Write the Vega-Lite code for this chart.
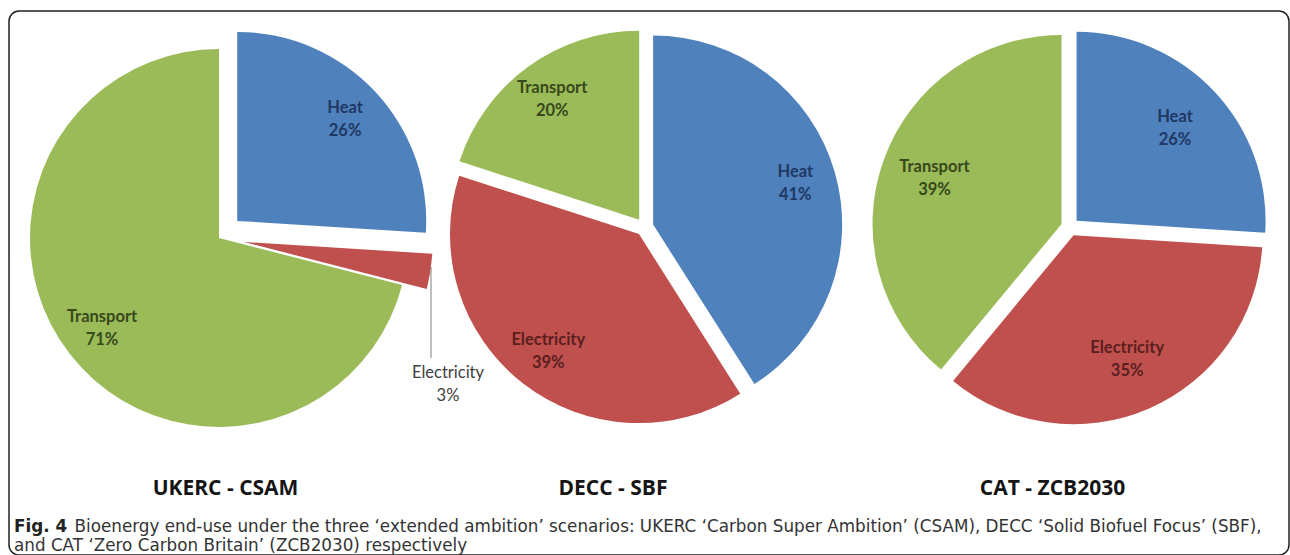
{
  "$schema": "https://vega.github.io/schema/vega-lite/v6.json",
  "width": 1280,
  "height": 544,
  "autosize": {"type": "none"},
  "padding": {"left": 9, "top": 11, "right": 1, "bottom": 0},
  "background": "white",
  "config": {
    "view": {"stroke": "#222222", "strokeWidth": 1.5, "cornerRadius": 10},
    "font": "Open Sans"
  },
  "title": {
    "text": "Fig. 4",
    "subtitle": "and CAT ‘Zero Carbon Britain’ (ZCB2030) respectively",
    "orient": "bottom",
    "anchor": "start",
    "frame": "group",
    "offset": -37,
    "dx": 5,
    "baseline": "top",
    "font": "DejaVu Sans",
    "fontSize": 16.8,
    "fontWeight": "bold",
    "color": "#222222",
    "subtitleFont": "DejaVu Sans",
    "subtitleFontSize": 16.8,
    "subtitleFontWeight": "normal",
    "subtitleColor": "#333333",
    "subtitlePadding": 3
  },
  "data": {
    "values": [
      {"scenario": "UKERC - CSAM", "category": "Heat", "share": 0.26, "order": 1},
      {"scenario": "UKERC - CSAM", "category": "Electricity", "share": 0.03, "order": 2},
      {"scenario": "UKERC - CSAM", "category": "Transport", "share": 0.71, "order": 3},
      {"scenario": "DECC - SBF", "category": "Heat", "share": 0.41, "order": 1},
      {"scenario": "DECC - SBF", "category": "Electricity", "share": 0.39, "order": 2},
      {"scenario": "DECC - SBF", "category": "Transport", "share": 0.20, "order": 3},
      {"scenario": "CAT - ZCB2030", "category": "Heat", "share": 0.26, "order": 1},
      {"scenario": "CAT - ZCB2030", "category": "Electricity", "share": 0.35, "order": 2},
      {"scenario": "CAT - ZCB2030", "category": "Transport", "share": 0.39, "order": 3}
    ]
  },
  "transform": [
    {"stack": "share", "groupby": ["scenario"], "sort": [{"field": "order", "order": "ascending"}], "as": ["v0", "v1"]}
  ],
  "encoding": {
    "x": {
      "field": "scenario",
      "type": "nominal",
      "sort": ["UKERC - CSAM", "DECC - SBF", "CAT - ZCB2030"],
      "scale": {"type": "point", "range": [210, 1061], "padding": 0},
      "axis": {
        "orient": "bottom",
        "offset": -67,
        "domain": false,
        "ticks": false,
        "grid": false,
        "labelPadding": 0,
        "labelAngle": 0,
        "labelBaseline": "middle",
        "labelFont": "Open Sans",
        "labelFontSize": 21,
        "labelFontWeight": "bold",
        "labelColor": "#151515",
        "labelOffset": {"condition": [{"test": "datum.value == 'DECC - SBF'", "value": -32}, {"test": "datum.value == 'CAT - ZCB2030'", "value": -18}], "value": 6},
        "title": "Bioenergy end-use under the three ‘extended ambition’ scenarios: UKERC ‘Carbon Super Ambition’ (CSAM), DECC ‘Solid Biofuel Focus’ (SBF),",
        "titleFont": "DejaVu Sans",
        "titleFontSize": 16.8,
        "titleFontWeight": "normal",
        "titleColor": "#333333",
        "titleAnchor": "start",
        "titleAlign": "left",
        "titleBaseline": "top",
        "titleX": 65,
        "titleY": 30,
        "titleLimit": 1300
      }
    }
  },
  "layer": [
    {
      "mark": {
        "type": "arc",
        "radius": 189,
        "xOffset": {"expr": "(datum.scenario == 'UKERC - CSAM' ? (datum.category == 'Transport' ? 0 : 25) : 9) * sin((datum.v0 + datum.v1) * PI)"},
        "yOffset": {"expr": "(datum.scenario == 'UKERC - CSAM' ? -45 : -56) - (datum.scenario == 'UKERC - CSAM' ? (datum.category == 'Transport' ? 0 : 25) : 9) * cos((datum.v0 + datum.v1) * PI)"}
      },
      "encoding": {
        "theta": {"field": "v0", "type": "quantitative", "scale": {"domain": [0, 1], "range": [0, 6.283185307]}},
        "theta2": {"field": "v1"},
        "color": {
          "field": "category",
          "type": "nominal",
          "scale": {"domain": ["Heat", "Electricity", "Transport"], "range": ["#4f81bd", "#c0504d", "#9bbb59"]},
          "legend": null
        }
      }
    },
    {
      "transform": [{"filter": "datum.scenario == 'UKERC - CSAM' && datum.category == 'Electricity'"}],
      "mark": {"type": "rule", "color": "#808080", "strokeWidth": 1, "xOffset": 212, "yOffset": 256, "strokeDash": [91, 2000]},
      "encoding": {}
    },
    {
      "mark": {
        "type": "text",
        "font": "Lato",
        "fontSize": 16.5,
        "fontWeight": {"expr": "datum.scenario == 'UKERC - CSAM' && datum.category == 'Electricity' ? 'normal' : 'bold'"},
        "align": "center",
        "baseline": "middle",
        "dy": -11.5,
        "fill": {"expr": "datum.scenario == 'UKERC - CSAM' && datum.category == 'Electricity' ? '#404040' : datum.category == 'Heat' ? '#1f3864' : datum.category == 'Electricity' ? '#5a1e1e' : '#37481a'"},
        "xOffset": {"expr": "datum.scenario == 'UKERC - CSAM' && datum.category == 'Electricity' ? 229 : ((datum.scenario == 'UKERC - CSAM' ? (datum.category == 'Transport' ? 0 : 25) : 9) + (datum.scenario == 'CAT - ZCB2030' ? 135 : 148)) * sin((datum.v0 + datum.v1) * PI)"},
        "yOffset": {"expr": "datum.scenario == 'UKERC - CSAM' && datum.category == 'Electricity' ? 101 : (datum.scenario == 'UKERC - CSAM' ? -45 : -56) - ((datum.scenario == 'UKERC - CSAM' ? (datum.category == 'Transport' ? 0 : 25) : 9) + (datum.scenario == 'CAT - ZCB2030' ? 135 : 148)) * cos((datum.v0 + datum.v1) * PI)"}
      },
      "encoding": {
        "text": {"field": "category", "type": "nominal"}
      }
    },
    {
      "mark": {
        "type": "text",
        "font": "Lato",
        "fontSize": 16.5,
        "fontWeight": {"expr": "datum.scenario == 'UKERC - CSAM' && datum.category == 'Electricity' ? 'normal' : 'bold'"},
        "align": "center",
        "baseline": "middle",
        "dy": 11.5,
        "fill": {"expr": "datum.scenario == 'UKERC - CSAM' && datum.category == 'Electricity' ? '#404040' : datum.category == 'Heat' ? '#1f3864' : datum.category == 'Electricity' ? '#5a1e1e' : '#37481a'"},
        "xOffset": {"expr": "datum.scenario == 'UKERC - CSAM' && datum.category == 'Electricity' ? 229 : ((datum.scenario == 'UKERC - CSAM' ? (datum.category == 'Transport' ? 0 : 25) : 9) + (datum.scenario == 'CAT - ZCB2030' ? 135 : 148)) * sin((datum.v0 + datum.v1) * PI)"},
        "yOffset": {"expr": "datum.scenario == 'UKERC - CSAM' && datum.category == 'Electricity' ? 101 : (datum.scenario == 'UKERC - CSAM' ? -45 : -56) - ((datum.scenario == 'UKERC - CSAM' ? (datum.category == 'Transport' ? 0 : 25) : 9) + (datum.scenario == 'CAT - ZCB2030' ? 135 : 148)) * cos((datum.v0 + datum.v1) * PI)"}
      },
      "encoding": {
        "text": {"field": "share", "type": "quantitative", "format": ".0%"}
      }
    }
  ]
}
